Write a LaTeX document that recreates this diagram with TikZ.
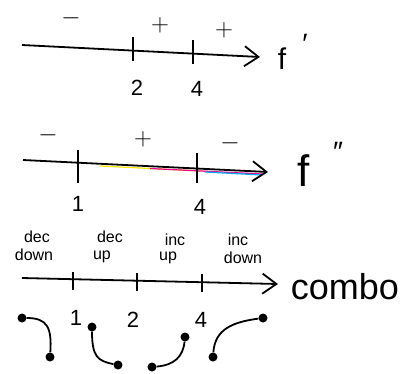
\documentclass[tikz,border=0pt]{standalone}
\usepackage{fontspec}
\setmainfont{Liberation Sans}
\usetikzlibrary{arrows.meta}

\begin{document}
\begin{tikzpicture}[x=1pt, y=-1pt,
    every node/.style={font=\fontsize{22}{24}\selectfont, inner sep=0pt},
    axisline/.style={line width=1.8pt, -{Straight Barb[length=14pt, width=20pt, line width=1.8pt]}},
    tickmark/.style={line width=1.8pt},
    sgn/.style={font=\fontsize{26}{28}\selectfont},
    word/.style={font=\fontsize{16}{17}\selectfont},
    dot/.style={circle, fill, inner sep=0pt, minimum width=9pt, minimum height=8pt},
    shapeline/.style={line width=1.8pt}]
    \useasboundingbox (0,0) rectangle (409,373);

    % f'
    \coordinate (p1s) at (22,45);
    \coordinate (p1e) at (260,57);
    \coordinate (p1t2) at (133,50);
    \coordinate (p1t4) at (193,53);
    \draw[axisline] (p1s) -- (p1e);
    \draw[tickmark] (p1t2) ++(0,-13) -- ++(0,24);
    \draw[tickmark] (p1t4) ++(0,-13) -- ++(0,24);
    \node[sgn] (p1m) at (71,18) {$-$};
    \node[sgn] (p1pa) at (160,25) {$+$};
    \node[sgn] (p1pb) at (224,30) {$+$};
    \node (p1n2) at (137,88) {2};
    \node (p1n4) at (197,89) {4};
    \node[font=\fontsize{30}{32}\selectfont] (p1f) at (282,59) {f};
    \node[font=\fontsize{28}{30}\selectfont] (p1pr) at (305,44) {′};

    % f''
    \coordinate (p2s) at (23,160);
    \coordinate (p2e) at (268,172);
    \coordinate (p2t1) at (78,161);
    \coordinate (p2t4) at (197,166);
    \draw[yellow!90!orange, line width=1.2pt] (100,166) -- (200,171);
    \draw[magenta, line width=1.2pt] (150,168.5) -- (262,174);
    \draw[cyan, line width=1.2pt] (205,172) -- (262,175);
    \draw[axisline] (p2s) -- (p2e);
    \draw[tickmark] (p2t1) ++(0,-11) -- ++(0,33);
    \draw[tickmark] (p2t4) ++(0,-13) -- ++(0,30);
    \node[sgn] (p2ma) at (48,135) {$-$};
    \node[sgn] (p2p) at (143,139) {$+$};
    \node[sgn] (p2mb) at (230,143) {$-$};
    \node (p2n1) at (78,204) {1};
    \node (p2n4) at (200,207) {4};
    \node[font=\fontsize{44}{46}\selectfont] (p2f) at (304,171) {f};
    \node[font=\fontsize{28}{30}\selectfont] (p2pr) at (338,152) {″};

    % combo
    \coordinate (p3s) at (22,278);
    \coordinate (p3e) at (278,284);
    \coordinate (p3t1) at (73,280);
    \coordinate (p3t2) at (137,281);
    \coordinate (p3t4) at (202,282);
    \draw[axisline] (p3s) -- (p3e);
    \draw[tickmark] (p3t1) ++(0,-8) -- ++(0,18);
    \draw[tickmark] (p3t2) ++(0,-8) -- ++(0,18);
    \draw[tickmark] (p3t4) ++(0,-8) -- ++(0,18);
    \node[word] (w1a) at (37,237) {dec};
    \node[word] (w1b) at (34,255) {down};
    \node[word] (w2a) at (110,237) {dec};
    \node[word] (w2b) at (102,257) {up};
    \node[word] (w3a) at (175,240) {inc};
    \node[word] (w3b) at (168,258) {up};
    \node[word] (w4a) at (238,240) {inc};
    \node[word] (w4b) at (243,258) {down};
    \node (p3n1) at (76,318) {1};
    \node (p3n2) at (133,320) {2};
    \node (p3n4) at (201,320) {4};
    \node[font=\fontsize{36}{38}\selectfont] (combo) at (345,287) {combo};

    % tvary
    \node[dot] (c1a) at (22,318) {};
    \node[dot] (c1b) at (50,357) {};
    \node[dot] (c2a) at (92,327) {};
    \node[dot] (c2b) at (118,365) {};
    \node[dot] (c3a) at (152,367) {};
    \node[dot] (c3b) at (185,337) {};
    \node[dot] (c4a) at (213,357) {};
    \node[dot] (c4b) at (263,318) {};
    \draw[shapeline] (c1a) .. controls +(25,0) and +(2,-30) .. (c1b);
    \draw[shapeline] (c2a) .. controls +(0,30) and +(-20,-4) .. (c2b);
    \draw[shapeline] (c3a) .. controls +(22,-2) and +(-2,20) .. (c3b);
    \draw[shapeline] (c4a) .. controls +(2,-28) and +(-30,4) .. (c4b);
\end{tikzpicture}
\end{document}
